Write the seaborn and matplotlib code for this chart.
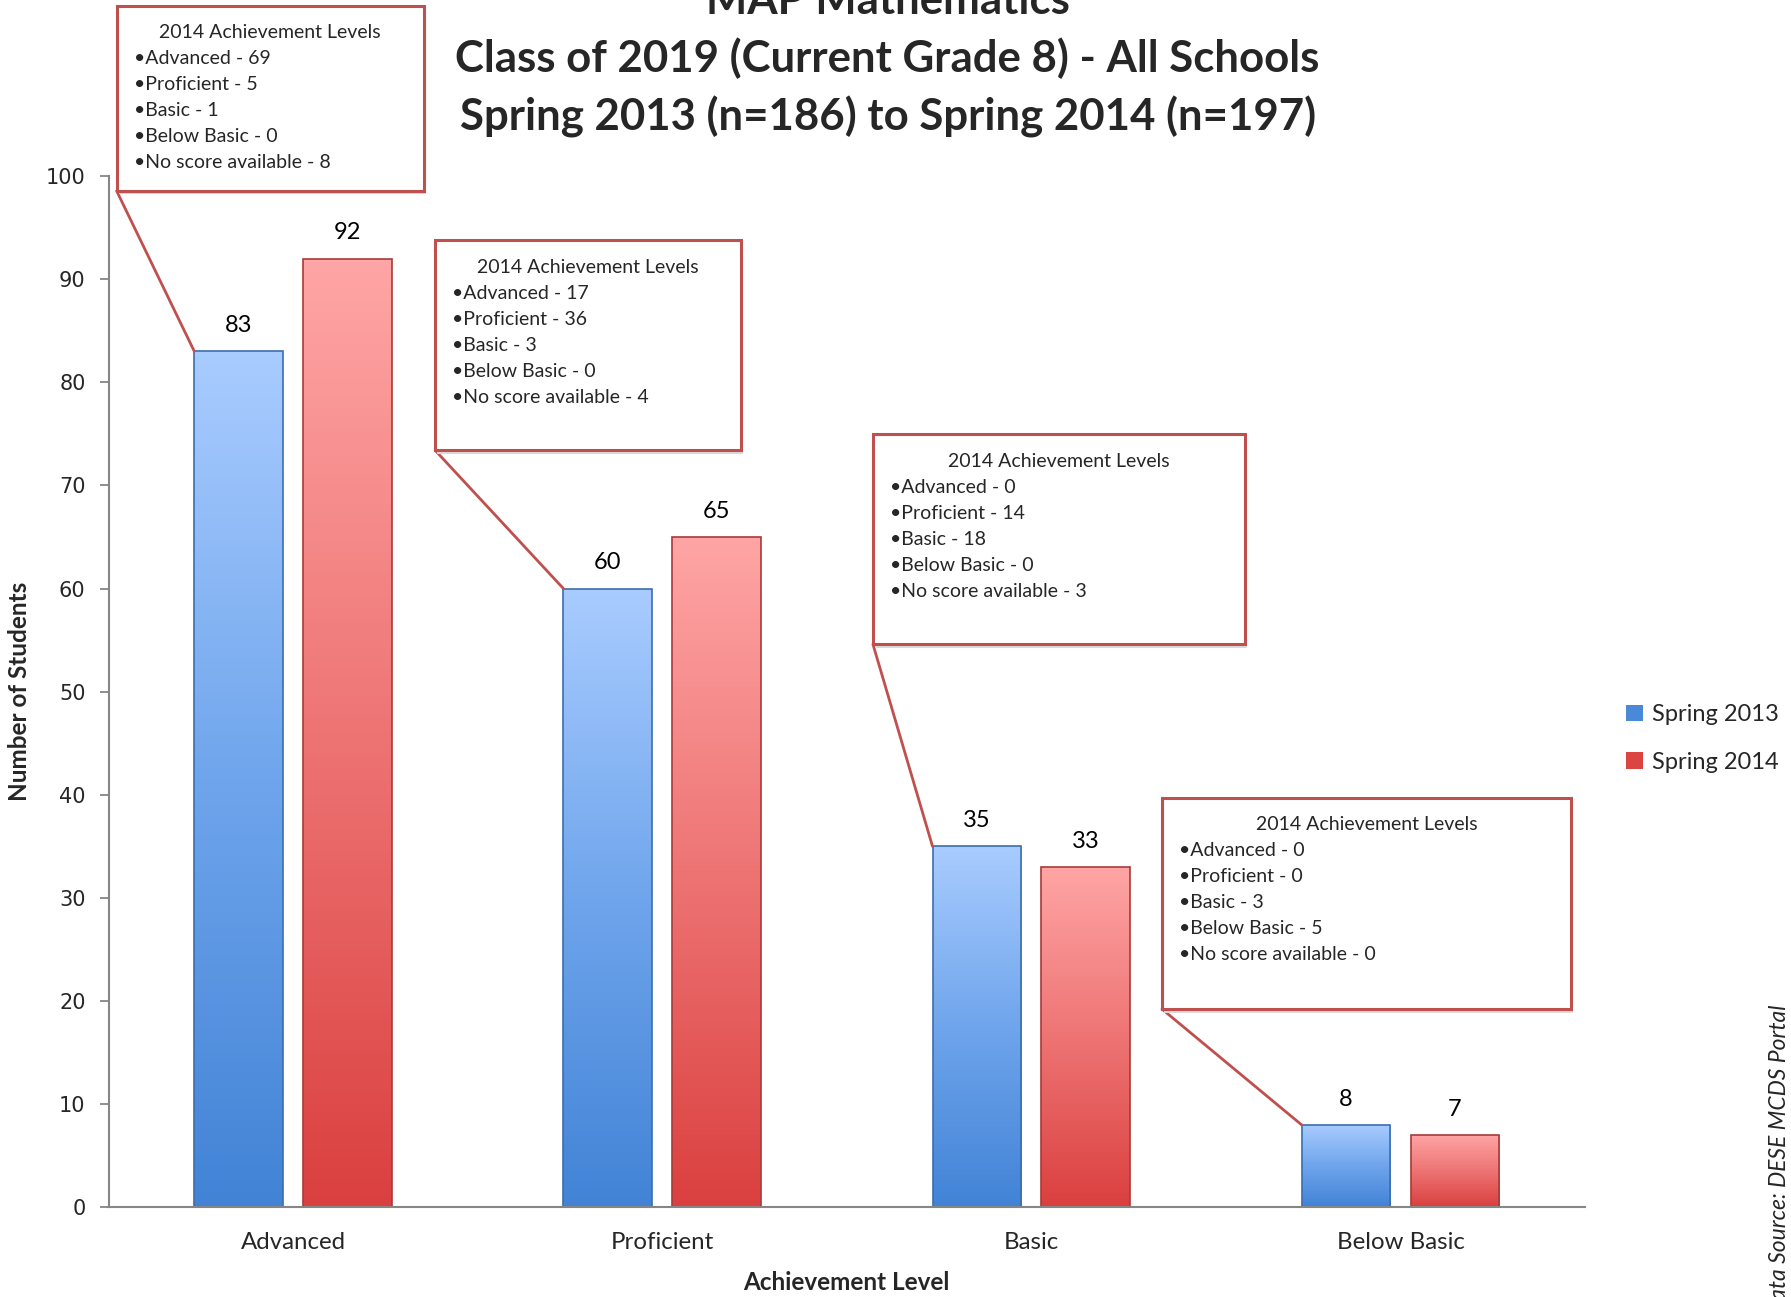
import numpy as np
import pandas as pd
import matplotlib
matplotlib.use("Agg")
import matplotlib.pyplot as plt
from matplotlib.colors import LinearSegmentedColormap
from matplotlib.patches import Rectangle
import seaborn as sns

# ---------------- data ----------------
categories = ["Advanced", "Proficient", "Basic", "Below Basic"]
series_names = ["Spring 2013", "Spring 2014"]
spring_2013 = [83, 60, 35, 8]
spring_2014 = [92, 65, 33, 7]

callout_title = "2014 Achievement Levels"
callout_levels = ["Advanced", "Proficient", "Basic", "Below Basic", "No score available"]
callout_advanced = [69, 5, 1, 0, 8]
callout_proficient = [17, 36, 3, 0, 4]
callout_basic = [0, 14, 18, 0, 3]
callout_below_basic = [0, 0, 3, 5, 0]

title_lines = ["MAP Mathematics",
               "Class of 2019 (Current Grade 8) - All Schools",
               "Spring 2013 (n=186) to Spring 2014 (n=197)"]
y_ticks = [0, 10, 20, 30, 40, 50, 60, 70, 80, 90, 100]

df = pd.DataFrame({
    "Achievement Level": categories * 2,
    "Series": [series_names[0]] * 4 + [series_names[1]] * 4,
    "Students": spring_2013 + spring_2014,
})

# ---------------- style ----------------
sns.set_style("white")
plt.rcParams["font.family"] = ["Lato", "DejaVu Sans"]

W, H = 1791, 1297
fig = plt.figure(figsize=(W / 100, H / 100), dpi=100)
ax = fig.add_axes([108.5 / W, 1 - 1207.4 / H, (1585 - 108.5) / W, (1207.4 - 176) / H])

palette = {"Spring 2013": "#4A88D8", "Spring 2014": "#DC4442"}
sns.barplot(data=df, x="Achievement Level", y="Students", hue="Series",
            hue_order=series_names, order=categories, palette=palette,
            width=0.59, gap=0.186, saturation=1, ax=ax, legend=True,
            edgecolor="none", linewidth=0)

ax.set_xlim(-0.5, 3.5)
ax.set_ylim(0, 100)

# gradients on bars
grad_cols = {
    "Spring 2013": ["#4283D6", "#6FA5EC", "#A9CCFF"],
    "Spring 2014": ["#DA403F", "#EE7474", "#FFA5A5"],
}
edge_cols = {"Spring 2013": "#3C6EAE", "Spring 2014": "#A83A3A"}
grad = np.linspace(0, 1, 256).reshape(-1, 1)
for name, cont in zip(series_names, ax.containers):
    cmap = LinearSegmentedColormap.from_list(name, grad_cols[name])
    for bar in cont:
        x0, y0 = bar.get_x(), bar.get_y()
        w, h = bar.get_width(), bar.get_height()
        im = ax.imshow(grad, extent=[x0, x0 + w, y0, y0 + h], origin="lower",
                       cmap=cmap, aspect="auto", zorder=bar.get_zorder() + 0.1,
                       interpolation="bicubic")
        im.set_clip_path(bar)
        ax.add_patch(Rectangle((x0, y0), w, h, fill=False, edgecolor=edge_cols[name],
                               lw=1.2, zorder=bar.get_zorder() + 0.2))
    ax.bar_label(cont, labels=[f"{v:g}" for v in cont.datavalues], padding=11,
                 fontsize=17, color="black")
ax.set_xlim(-0.5, 3.5)
ax.set_ylim(0, 100)

# axes styling
for s in ["top", "right"]:
    ax.spines[s].set_visible(False)
for s in ["left", "bottom"]:
    ax.spines[s].set_color("#868686")
    ax.spines[s].set_linewidth(1.5)
ax.set_yticks(y_ticks)
ax.tick_params(axis="y", length=6.5, width=1.3, color="#868686", pad=10,
               labelsize=15, left=True)
for lab in ax.get_yticklabels():
    lab.set_fontfamily("DejaVu Sans")
ax.tick_params(axis="x", length=0, pad=18, labelsize=17.3)
ax.set_ylabel("Number of Students", fontsize=17.5, fontweight="bold")
ax.yaxis.set_label_coords(-0.0525, 0.5)
ax.set_xlabel("Achievement Level", fontsize=17.5, fontweight="bold")
ax.xaxis.set_label_coords(0.5, -0.0617)

# legend
handles, labels = ax.get_legend_handles_labels()
ax.legend(handles, labels, loc="center left",
          bbox_to_anchor=(1626 / W, 1 - 738.5 / H), bbox_transform=fig.transFigure,
          frameon=False, fontsize=17, handlelength=0.7, handleheight=0.7,
          handletextpad=0.4, labelspacing=1.12, borderaxespad=0, borderpad=0)

# title
for line, base in zip(title_lines, [14, 72, 130]):
    fig.text(887.6 / W, 1 - base / H, line, ha="center", va="baseline",
             fontsize=31.5, fontweight="bold")

# data source
fig.text(1780 / W, 1 - 1005 / H, "Data Source: DESE MCDS Portal", rotation=90,
         ha="center", va="top", fontsize=16.5, style="italic")

# callouts  (box corners in data coords: x0, x1, y_bottom, y_top)
callout_boxes = [(-0.478, 0.354, 98.56, 116.5),
                 (0.385, 1.214, 73.4, 93.78),
                 (1.571, 2.579, 54.6, 74.98),
                 (2.354, 3.462, 19.23, 39.7)]
callout_values = [callout_advanced, callout_proficient, callout_basic, callout_below_basic]
box_col = "#C0504D"
blue_bars = list(ax.containers[0])
inv = fig.transFigure.inverted()
for (bx0, bx1, by0, by1), vals, bar in zip(callout_boxes, callout_values, blue_bars):
    # pointer
    ax.plot([bx0, bar.get_x()], [by0, bar.get_height()], color=box_col, lw=2,
            clip_on=False, zorder=9, solid_capstyle="round")
    # shadow
    ax.add_patch(Rectangle((bx0 + 0.006, by0 - 0.35), bx1 - bx0, by1 - by0,
                           facecolor="#D9D9D9", edgecolor="none", clip_on=False, zorder=9))
    ax.add_patch(Rectangle((bx0, by0), bx1 - bx0, by1 - by0, facecolor="white",
                           edgecolor=box_col, lw=2.2, clip_on=False, zorder=10))
    left_px, top_y = ax.transData.transform((bx0, by1))
    cx = ax.transData.transform(((bx0 + bx1) / 2, by1))[0]
    pt = inv.transform((cx, top_y - 32.5))
    fig.text(pt[0], pt[1], callout_title, ha="center", va="baseline",
             fontsize=14, zorder=11)
    for i, (lvl, v) in enumerate(zip(callout_levels, vals)):
        pt = inv.transform((left_px + 17, top_y - 58.5 - 26 * i))
        fig.text(pt[0], pt[1], f"\u2022{lvl} - {v}", ha="left", va="baseline",
                 fontsize=14, zorder=11)

fig.savefig("out.png", dpi=100)
